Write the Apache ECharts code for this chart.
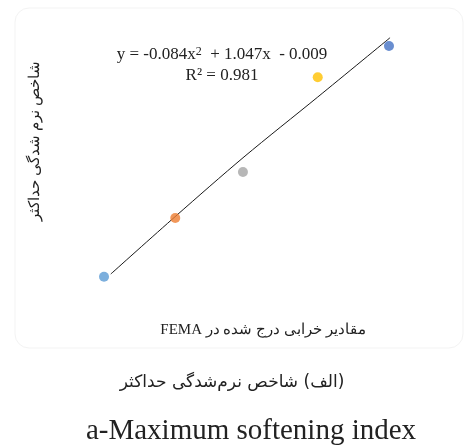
<!DOCTYPE html>
<html>
<head>
<meta charset="utf-8">
<script src="https://cdn.jsdelivr.net/npm/echarts@6/dist/echarts.min.js"></script>
<style>
html,body{margin:0;padding:0;background:#fff;}
#chart{width:465px;height:447px;}
</style>
</head>
<body>
<div id="chart"></div>
<script>
// Data
const xValues = [0.1, 0.3, 0.49, 0.7, 0.9];
const yValues = [0.096, 0.295, 0.451, 0.772, 0.878];
const pointColors = ['#5B9BD5', '#ED7D31', '#A5A5A5', '#FFC000', '#4472C4'];
const trendX = [0.119, 0.302, 0.493, 0.700, 0.903];
const trendY = [0.105, 0.302, 0.502, 0.705, 0.906];
const equationText = 'y = -0.084x{sup|2}  + 1.047x  - 0.009';
const r2Text = 'R² = 0.981';
const xTitle = 'مقادیر خرابی درج شده در FEMA';
const yTitle = 'شاخص نرم شدگی حداکثر';
const captionFa = '(الف) شاخص نرم\u200Cشدگی حداکثر';
const captionEn = 'a-Maximum softening index';

const RLE = '\u202B', PDF = '\u202C';
const serif = "'Liberation Serif', 'Times New Roman', 'DejaVu Serif', serif";

const chart = echarts.init(document.getElementById('chart'));
chart.setOption({
  animation: false,
  backgroundColor: '#ffffff',
  grid: { left: 68.4, right: 40.4, top: 10, bottom: 142 },
  xAxis: { type: 'value', min: 0, max: 1, show: false },
  yAxis: { type: 'value', min: 0, max: 1, show: false },
  series: [
    {
      type: 'line',
      data: trendX.map((x, i) => [x, trendY[i]]),
      smooth: 0.3,
      symbol: 'none',
      lineStyle: { color: '#1a1a1a', width: 1 },
      z: 2
    },
    {
      type: 'scatter',
      symbolSize: 10,
      data: xValues.map((x, i) => ({ value: [x, yValues[i]], itemStyle: { color: pointColors[i] } })),
      z: 3
    }
  ],
  graphic: [
    {
      type: 'rect',
      shape: { x: 15, y: 8, width: 448, height: 340, r: 14 },
      style: { fill: 'none', stroke: '#f3f3f3', lineWidth: 1 },
      z: 0
    },
    {
      type: 'text', x: 222, y: 55,
      style: {
        text: equationText, align: 'center', verticalAlign: 'middle',
        fontSize: 17, fontFamily: serif, fill: '#222',
        rich: { sup: { fontSize: 12, fontFamily: serif, fill: '#222', verticalAlign: 'top', padding: [0, 0, 7, 0] } }
      }
    },
    {
      type: 'text', x: 222, y: 76,
      style: { text: r2Text, align: 'center', verticalAlign: 'middle', fontSize: 17, fontFamily: serif, fill: '#222' }
    },
    {
      type: 'text', x: 263, y: 330,
      style: { text: RLE + xTitle + PDF, align: 'center', verticalAlign: 'middle', fontSize: 15, fontFamily: serif, fill: '#222' }
    },
    {
      type: 'text', x: 35, y: 141, rotation: Math.PI / 2,
      style: { text: RLE + yTitle + PDF, align: 'center', verticalAlign: 'middle', fontSize: 15, fontFamily: serif, fill: '#222' }
    },
    {
      type: 'text', x: 232, y: 383,
      style: { text: RLE + captionFa + PDF, align: 'center', verticalAlign: 'middle', fontSize: 17, fontFamily: "'DejaVu Sans', sans-serif", fill: '#222' }
    },
    {
      type: 'text', x: 251, y: 431,
      style: { text: captionEn, align: 'center', verticalAlign: 'middle', fontSize: 29, fontFamily: serif, fill: '#222' }
    }
  ]
});
</script>
</body>
</html>
